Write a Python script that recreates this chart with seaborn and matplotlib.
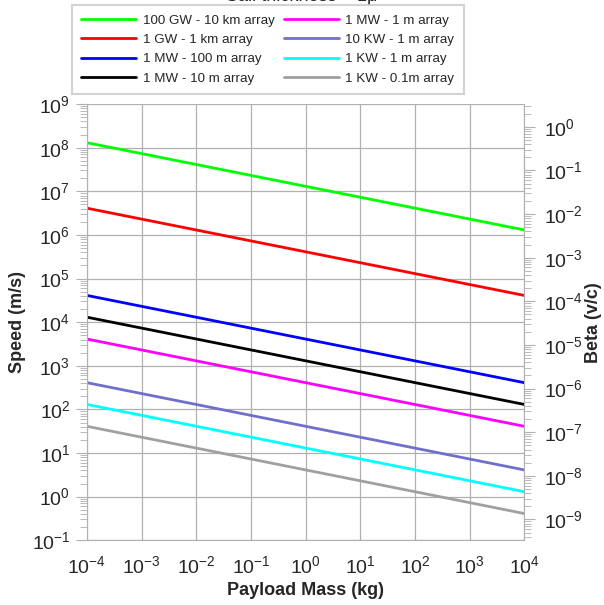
import numpy as np
import pandas as pd
import matplotlib
matplotlib.use("Agg")
import matplotlib.pyplot as plt
import seaborn as sns
from matplotlib.ticker import LogLocator, NullFormatter

# ============================
# Data (line endpoints)
# ============================
labels = ["100 GW - 10 km array", "1 GW - 1 km array", "1 MW - 100 m array",
          "1 MW - 10 m array", "1 MW - 1 m array", "10 KW - 1 m array",
          "1 KW - 1 m array", "1 KW - 0.1m array"]
colors = ["#00ff00", "#ff0000", "#0000ff", "#000000",
          "#ff00ff", "#7070cc", "#00ffff", "#a0a0a0"]
mass_kg = [1e-4, 1e4]
speed_start = [1.3e8, 4.1e6, 4.1e4, 1.3e4, 4.1e3, 410, 130, 41]
speed_end = [1.3e6, 4.1e4, 410, 130, 41, 4.1, 1.3, 0.41]
c_light = 3e8

rows = []
for lab, v0, v1 in zip(labels, speed_start, speed_end):
    rows.append({"series": lab, "mass": mass_kg[0], "speed": v0})
    rows.append({"series": lab, "mass": mass_kg[1], "speed": v1})
df = pd.DataFrame(rows)

# ============================
# Plot
# ============================
sns.set_style("white")
plt.rcParams["font.family"] = ["Liberation Sans", "DejaVu Sans"]
plt.rcParams["mathtext.fontset"] = "custom"
plt.rcParams["mathtext.rm"] = "Liberation Sans"
plt.rcParams["mathtext.it"] = "Liberation Sans"

fig = plt.figure(figsize=(6.04, 6.05), dpi=100)
ax = fig.add_axes([0.144, 0.107, 0.724, 0.721])

sns.lineplot(data=df, x="mass", y="speed", hue="series", hue_order=labels,
             palette=colors, linewidth=2, ax=ax, legend=True)

ax.set_xscale("log")
ax.set_yscale("log")
ax.set_xlim(1e-4, 1e4)
ax.set_ylim(1e-1, 1e9)

ax.xaxis.set_major_locator(LogLocator(base=10, numticks=20))
ax.xaxis.set_minor_locator(LogLocator(base=10, subs=np.arange(2, 10), numticks=20))
ax.xaxis.set_minor_formatter(NullFormatter())
ax.yaxis.set_major_locator(LogLocator(base=10, numticks=20))
ax.yaxis.set_minor_locator(LogLocator(base=10, subs=np.arange(2, 10), numticks=20))
ax.yaxis.set_minor_formatter(NullFormatter())

ax.grid(True, which="major", color="#b0b0b0", linewidth=0.9)
for s in ["top", "bottom", "left", "right"]:
    ax.spines[s].set_visible(False)
ax.spines["left"].set_visible(True)
ax.spines["left"].set_color("#b0b0b0")
ax.spines["bottom"].set_visible(True)
ax.spines["bottom"].set_color("#b0b0b0")

ax.tick_params(axis="y", which="major", direction="out", length=8, color="#b0b0b0",
               labelsize=14, pad=4)
ax.tick_params(axis="y", which="minor", direction="out", length=5, color="#b0b0b0")
ax.tick_params(axis="x", which="major", direction="out", length=8, color="#b0b0b0",
               labelsize=14, pad=3)
ax.tick_params(axis="x", which="minor", direction="in", length=5, color="#b0b0b0")

ax.set_xlabel("Payload Mass (kg)", fontsize=13, fontweight="bold", labelpad=3)
ax.set_ylabel("Speed (m/s)", fontsize=13, fontweight="bold", labelpad=4)

# Beta axis on the right
ax2 = ax.twinx()
ax2.set_yscale("log")
ax2.set_ylim(1e-1 / c_light, 1e9 / c_light)
ax2.yaxis.set_major_locator(LogLocator(base=10, numticks=20))
ax2.yaxis.set_minor_locator(LogLocator(base=10, subs=np.arange(2, 10), numticks=20))
ax2.yaxis.set_minor_formatter(NullFormatter())
for s in ["top", "bottom", "left"]:
    ax2.spines[s].set_visible(False)
ax2.spines["right"].set_color("#b0b0b0")
ax2.tick_params(axis="y", which="major", direction="out", length=8, color="#b0b0b0",
                labelsize=14, pad=6)
ax2.tick_params(axis="y", which="minor", direction="out", length=5, color="#b0b0b0")
ax2.set_ylabel("Beta (v/c)", fontsize=13, fontweight="bold", labelpad=2)

# Legend above the plot
handles, labs = ax.get_legend_handles_labels()
ax.get_legend().remove()
leg = fig.legend(handles, labs,
                 loc="upper left", bbox_to_anchor=(0.119, 0.992), ncol=2,
                 borderaxespad=0,
                 fontsize=9.6, frameon=True, fancybox=False, edgecolor="#c8c8c8",
                 handlelength=4.1, columnspacing=0.7, labelspacing=0.52,
                 borderpad=0.72, handletextpad=0.5)
leg.get_frame().set_linewidth(1.5)

fig.text(0.5, 1.006, "Sail thickness = 1\u03bc", ha="center", va="center",
         fontsize=13)

plt.savefig("out.png", dpi=100)
